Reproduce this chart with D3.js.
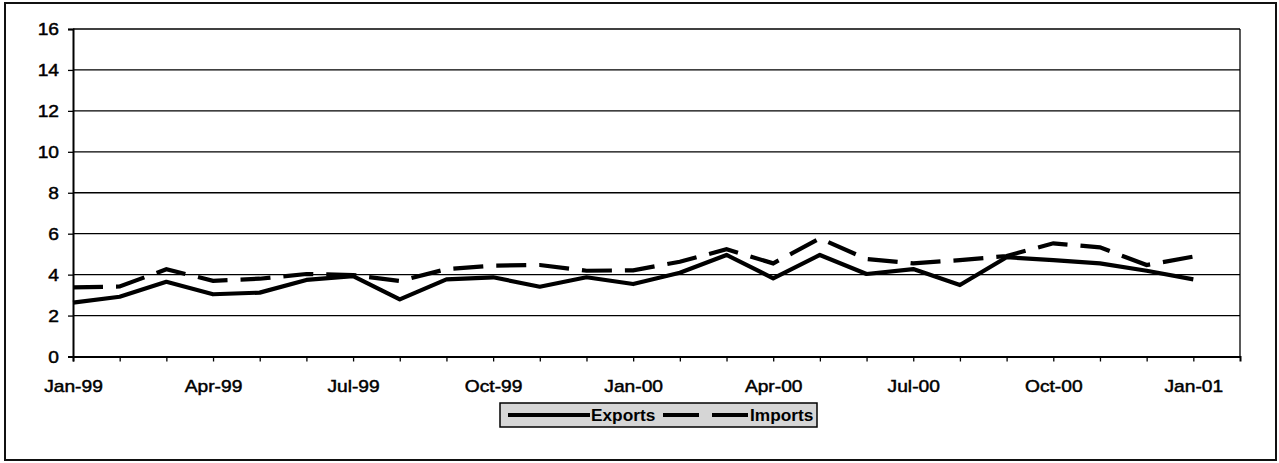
<!DOCTYPE html>
<html>
<head>
<meta charset="utf-8">
<script src="https://cdn.jsdelivr.net/npm/d3@7"></script>
<style>
  html, body { margin: 0; padding: 0; background: #fff; }
  svg { display: block; font-family: "Liberation Sans", Arial, sans-serif; }
  .lbl { stroke: #000; stroke-width: 0.45px; }
</style>
</head>
<body>
<svg id="chart" width="1279" height="463"></svg>
<script>
// ---- Data ----
const months = ["Jan-99","Feb-99","Mar-99","Apr-99","May-99","Jun-99","Jul-99","Aug-99","Sep-99","Oct-99","Nov-99","Dec-99",
                "Jan-00","Feb-00","Mar-00","Apr-00","May-00","Jun-00","Jul-00","Aug-00","Sep-00","Oct-00","Nov-00","Dec-00","Jan-01"];
const exportsVals = [2.63,2.92,3.65,3.04,3.12,3.74,3.93,2.79,3.77,3.87,3.41,3.87,
                     3.54,4.09,4.96,3.82,4.96,4.03,4.27,3.49,4.85,4.71,4.55,4.19,3.77];
const importsVals = [3.38,3.42,4.26,3.70,3.80,4.03,3.98,3.69,4.27,4.44,4.47,4.19,
                     4.21,4.63,5.24,4.55,5.77,4.76,4.55,4.71,4.91,5.53,5.33,4.47,4.88];
const yTicks = [0,2,4,6,8,10,12,14,16];
const xLabelMonths = ["Jan-99","Apr-99","Jul-99","Oct-99","Jan-00","Apr-00","Jul-00","Oct-00","Jan-01"];
const seriesNames = ["Exports","Imports"];

// ---- Layout ----
const svg = d3.select("#chart");
const pL = 73, pR = 1240, pT = 29, pB = 356.5;
const x = d3.scaleLinear().domain([0, months.length]).range([pL, pR]);
const y = d3.scaleLinear().domain([0, 16]).range([pB, pT]);
const SX = 1.2; // horizontal stretch of scanned text

// outer border
svg.append("rect").attr("x", 5).attr("y", 3).attr("width", 1271).attr("height", 457)
  .attr("fill", "none").attr("stroke", "#111").attr("stroke-width", 2);

// gridlines
svg.append("g").selectAll("line").data(yTicks.filter(d => d > 0)).join("line")
  .attr("x1", pL).attr("x2", pR).attr("y1", d => y(d)).attr("y2", d => y(d))
  .attr("stroke", "#000").attr("stroke-width", 1.3);

// right border of plot area
svg.append("line").attr("x1", pR).attr("x2", pR).attr("y1", pT).attr("y2", pB)
  .attr("stroke", "#000").attr("stroke-width", 1.3);

// y axis
const yAxis = svg.append("g").attr("transform", `translate(${pL},0)`)
  .call(d3.axisLeft(y).tickValues(yTicks).tickSize(5).tickFormat(d3.format("d")));
yAxis.select(".domain").attr("stroke", "#000").attr("stroke-width", 2);
yAxis.selectAll(".tick line").attr("stroke", "#000").attr("stroke-width", 1.3);
yAxis.selectAll(".tick text").remove();
yAxis.selectAll(".tick").append("text").attr("class", "lbl")
  .attr("transform", `translate(-14,0) scale(${SX},1)`)
  .attr("text-anchor", "end").attr("dy", "0.36em")
  .attr("font-size", 16).attr("fill", "#000")
  .text(d => d3.format("d")(d));

// x axis
const xAxis = svg.append("g").attr("transform", `translate(0,${pB})`)
  .call(d3.axisBottom(x).tickValues(d3.range(0, months.length)).tickSize(5).tickFormat(""));
xAxis.select(".domain").attr("stroke", "#000").attr("stroke-width", 2);
xAxis.selectAll(".tick line").attr("stroke", "#000").attr("stroke-width", 1.3);
xAxis.selectAll(".tick").filter(i => xLabelMonths.includes(months[i])).append("text").attr("class", "lbl")
  .attr("transform", `translate(0,35) scale(${SX},1)`)
  .attr("text-anchor", "middle")
  .attr("font-size", 16).attr("fill", "#000")
  .text(i => months[i]);

// lines
const line = d3.line().x((d, i) => x(i)).y(d => y(d));
svg.append("path").datum(exportsVals).attr("d", line)
  .attr("fill", "none").attr("stroke", "#000").attr("stroke-width", 4.2)
  .attr("stroke-linejoin", "round");
svg.append("path").datum(importsVals).attr("d", line)
  .attr("fill", "none").attr("stroke", "#000").attr("stroke-width", 4.2)
  .attr("stroke-dasharray", "30,13");

// legend
const lg = svg.append("g");
lg.append("rect").attr("x", 500).attr("y", 403).attr("width", 317).attr("height", 24)
  .attr("fill", "#d6d6d6").attr("stroke", "#000").attr("stroke-width", 1.5);
const ly = 415;
lg.append("line").attr("x1", 508).attr("x2", 590).attr("y1", ly).attr("y2", ly)
  .attr("stroke", "#000").attr("stroke-width", 4);
lg.append("text").attr("transform", `translate(591,${ly + 6}) scale(1.08,1)`)
  .attr("font-size", 16).attr("font-weight", "bold").attr("fill", "#000").text(seriesNames[0]);
lg.append("line").attr("x1", 663).attr("x2", 749).attr("y1", ly).attr("y2", ly)
  .attr("stroke", "#000").attr("stroke-width", 4).attr("stroke-dasharray", "36,13");
lg.append("text").attr("transform", `translate(750,${ly + 6}) scale(1.08,1)`)
  .attr("font-size", 16).attr("font-weight", "bold").attr("fill", "#000").text(seriesNames[1]);
</script>
</body>
</html>
